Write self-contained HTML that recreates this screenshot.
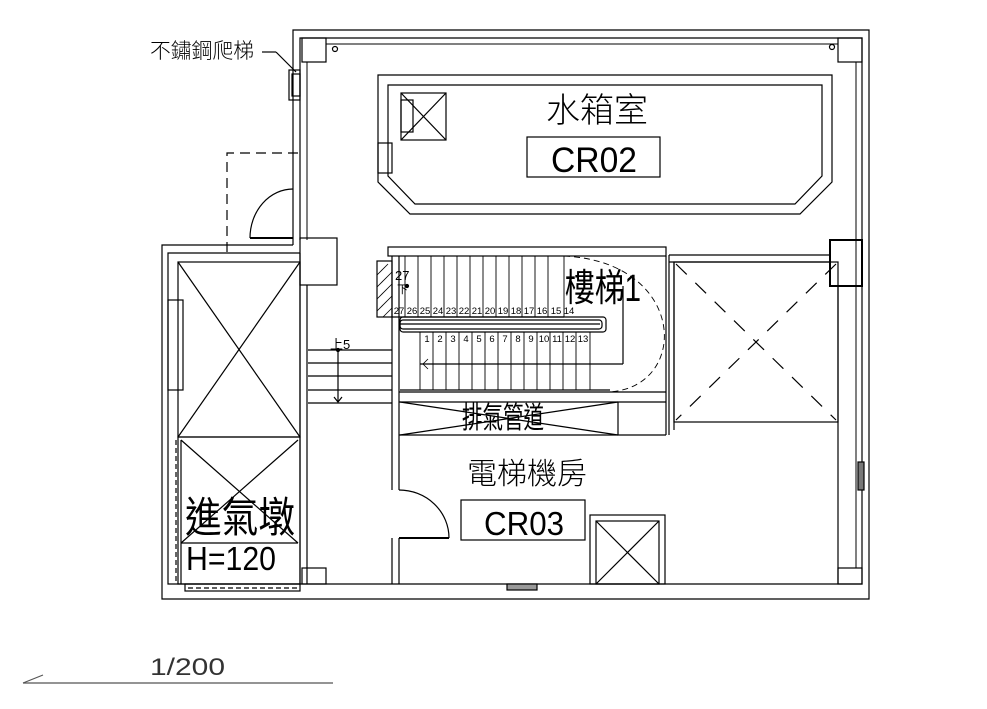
<!DOCTYPE html>
<html><head><meta charset="utf-8"><style>
html,body{margin:0;padding:0;background:#fff;}
svg{display:block}
text{font-family:"Liberation Sans","Noto Sans CJK TC",sans-serif;}
</style></head><body>
<svg width="987" height="709" viewBox="0 0 987 709" xmlns="http://www.w3.org/2000/svg">
<g fill="none" stroke="#000" stroke-width="1.2">
<!-- outer walls -->
<polyline points="293,245 293,30 869,30 869,599 162,599 162,245 293,245"/>
<polyline points="300,240 300,38 862,38 862,584 168,584 168,253 300,253"/>
<line x1="307" y1="62" x2="307" y2="240" stroke-width="1"/>
<line x1="326" y1="44" x2="838" y2="44" stroke-width="1"/>
<line x1="856" y1="62" x2="856" y2="568" stroke-width="1"/>
<!-- columns -->
<rect x="302" y="38" width="24" height="24"/>
<rect x="838" y="38" width="24" height="24"/>
<rect x="302" y="568" width="24" height="16"/>
<rect x="838" y="568" width="24" height="16"/>
<rect x="830" y="240" width="32" height="46" stroke-width="2"/>
<circle cx="335" cy="49" r="2.5"/><circle cx="832" cy="47" r="2.5"/>
<!-- ladder -->
<rect x="289" y="70" width="11" height="30"/><rect x="292" y="74" width="8" height="22"/>
<line x1="262" y1="52" x2="276" y2="52"/><line x1="276" y1="52" x2="296" y2="72"/>
<!-- dashed L -->
<polyline points="227,252 227,153 300,153" stroke-dasharray="10,6"/>
<line x1="250" y1="238" x2="293" y2="238" stroke-width="2"/>
<path d="M250,238 A43,49 0 0 1 293,189"/>
<rect x="300" y="238" width="37" height="47"/>
<!-- water tank -->
<polygon points="378,75 832,75 832,182 800,214 410,214 378,182"/>
<polygon points="388,85 822,85 822,176 795,204 415,204 388,176"/>
<rect x="401" y="93" width="45" height="47"/><line x1="401" y1="93" x2="446" y2="140"/><line x1="446" y1="93" x2="401" y2="140"/>
<rect x="401" y="100" width="12" height="32"/>
<rect x="378" y="143" width="14" height="30"/>
<rect x="527" y="137" width="133" height="40"/>
<!-- stair -->
<rect x="388" y="247" width="278" height="9"/>
<line x1="666" y1="256" x2="666" y2="435"/>
<line x1="392" y1="256" x2="392" y2="490"/><line x1="399" y1="256" x2="399" y2="490"/>
<line x1="392" y1="538" x2="392" y2="584"/><line x1="399" y1="538" x2="399" y2="584"/>
<rect x="377" y="261" width="15" height="56"/>
<g stroke-width="0.8">
<line x1="377" y1="275" x2="388" y2="264"/><line x1="377" y1="287" x2="392" y2="272"/><line x1="377" y1="299" x2="392" y2="284"/><line x1="377" y1="311" x2="392" y2="296"/><line x1="383" y1="317" x2="392" y2="308"/>
</g>
<line x1="392" y1="317" x2="564" y2="317"/>
<g stroke-width="0.9">
<line x1="405" y1="256" x2="405" y2="317"/><line x1="418" y1="256" x2="418" y2="317"/><line x1="431" y1="256" x2="431" y2="317"/><line x1="444" y1="256" x2="444" y2="317"/><line x1="457" y1="256" x2="457" y2="317"/><line x1="470" y1="256" x2="470" y2="317"/><line x1="483" y1="256" x2="483" y2="317"/><line x1="496" y1="256" x2="496" y2="317"/><line x1="509" y1="256" x2="509" y2="317"/><line x1="522" y1="256" x2="522" y2="317"/><line x1="535" y1="256" x2="535" y2="317"/><line x1="548" y1="256" x2="548" y2="317"/><line x1="564" y1="256" x2="564" y2="317"/>
<line x1="420" y1="332" x2="420" y2="390"/><line x1="433" y1="332" x2="433" y2="390"/><line x1="446" y1="332" x2="446" y2="390"/><line x1="459" y1="332" x2="459" y2="390"/><line x1="472" y1="332" x2="472" y2="390"/><line x1="485" y1="332" x2="485" y2="390"/><line x1="498" y1="332" x2="498" y2="390"/><line x1="511" y1="332" x2="511" y2="390"/><line x1="524" y1="332" x2="524" y2="390"/><line x1="537" y1="332" x2="537" y2="390"/><line x1="550" y1="332" x2="550" y2="390"/><line x1="563" y1="332" x2="563" y2="390"/><line x1="576" y1="332" x2="576" y2="390"/><line x1="590" y1="332" x2="590" y2="390"/>
</g>
<rect x="400" y="317" width="206" height="15" rx="3"/>
<rect x="400" y="320" width="202" height="9" rx="3"/>
<line x1="400" y1="324" x2="600" y2="324"/>
<line x1="420" y1="364" x2="623" y2="364"/><line x1="623" y1="286" x2="623" y2="364"/>
<polyline points="428,359 423,364 428,369" stroke-width="0.8"/>
<line x1="400" y1="390" x2="610" y2="390"/>
<line x1="399" y1="392" x2="666" y2="392"/>
<path d="M564,256 C690,262 690,392 605,392" stroke-dasharray="6,4" stroke-width="0.9"/>
<circle cx="407" cy="286" r="1.5" fill="#000"/>
<!-- pipe duct -->
<line x1="399" y1="402" x2="666" y2="402"/><line x1="399" y1="435" x2="666" y2="435"/>
<line x1="618" y1="402" x2="618" y2="435"/>
<line x1="400" y1="402" x2="618" y2="435"/><line x1="618" y1="402" x2="400" y2="435"/>
<!-- left stair -->
<line x1="308" y1="350" x2="392" y2="350"/><line x1="308" y1="363" x2="392" y2="363"/><line x1="308" y1="376" x2="392" y2="376"/><line x1="308" y1="390" x2="392" y2="390"/><line x1="308" y1="403" x2="392" y2="403"/>
<line x1="338" y1="350" x2="338" y2="402"/><polyline points="334,397 338,402 342,397"/>
<circle cx="338" cy="350" r="1.5" fill="#000"/>
<!-- left elevator zone -->
<line x1="300" y1="253" x2="300" y2="584"/><line x1="307" y1="285" x2="307" y2="584"/>
<rect x="178" y="262" width="122" height="175"/>
<line x1="178" y1="262" x2="300" y2="437"/><line x1="300" y1="262" x2="178" y2="437"/>
<rect x="168" y="300" width="15" height="90"/>
<rect x="178" y="437" width="122" height="147"/>
<line x1="181" y1="440" x2="298" y2="543"/><line x1="298" y1="440" x2="181" y2="543"/>
<line x1="181" y1="543" x2="298" y2="543"/>
<line x1="181" y1="440" x2="181" y2="584"/>
<line x1="176" y1="440" x2="176" y2="584" stroke-dasharray="5,3"/>
<rect x="185" y="584" width="115" height="7"/>
<line x1="188" y1="588" x2="298" y2="588" stroke-dasharray="5,3"/>
<!-- right shaft -->
<line x1="669" y1="255" x2="830" y2="255"/><line x1="669" y1="262" x2="830" y2="262"/>
<line x1="674" y1="262" x2="674" y2="430"/><line x1="669" y1="255" x2="669" y2="435"/>
<rect x="674" y="262" width="164" height="160"/>
<line x1="676" y1="264" x2="836" y2="420" stroke-dasharray="15,12"/>
<line x1="836" y1="264" x2="676" y2="420" stroke-dasharray="15,12"/>
<line x1="838" y1="286" x2="838" y2="584"/>
<rect x="858" y="462" width="6" height="28" fill="#777"/>
<!-- machine room -->
<line x1="399" y1="538" x2="449" y2="538" stroke-width="2"/>
<path d="M399,490 A50,48 0 0 1 449,538"/>
<rect x="461" y="500" width="124" height="40"/>
<rect x="590" y="515" width="75" height="69"/>
<rect x="596" y="521" width="63" height="63"/>
<line x1="596" y1="521" x2="659" y2="584"/><line x1="659" y1="521" x2="596" y2="584"/>
<rect x="507" y="584" width="30" height="6" fill="#999"/>
<!-- scale -->
<line x1="23" y1="683" x2="333" y2="683" stroke="#555"/>
<line x1="23" y1="683" x2="43" y2="675" stroke="#555"/>
</g>
<g fill="#000">
<text x="150" y="58" font-size="21" textLength="104" lengthAdjust="spacingAndGlyphs" font-weight="300">不鏽鋼爬梯</text>
<text x="597" y="122" font-size="34" text-anchor="middle" font-weight="300">水箱室</text>
<text x="594" y="172" font-size="35" text-anchor="middle" textLength="86" lengthAdjust="spacingAndGlyphs" font-weight="300">CR02</text>
<text x="527" y="484" font-size="30" text-anchor="middle" font-weight="300">電梯機房</text>
<text x="524" y="535" font-size="33" text-anchor="middle" textLength="80" lengthAdjust="spacingAndGlyphs" font-weight="300">CR03</text>
<text x="565" y="301" font-size="38" font-family="Liberation Serif,Noto Serif CJK SC,serif" textLength="76" lengthAdjust="spacingAndGlyphs">樓梯1</text>
<text x="462" y="428" font-size="30" textLength="82" lengthAdjust="spacingAndGlyphs">排氣管道</text>
<text x="185" y="532" font-size="42" font-family="Liberation Serif,Noto Serif CJK SC,serif" textLength="110" lengthAdjust="spacingAndGlyphs">進氣墩</text>
<text x="186" y="570" font-size="33" font-family="Liberation Serif,serif" textLength="90" lengthAdjust="spacingAndGlyphs">H=120</text>
<text x="395" y="280" font-size="13">27</text>
<text x="397" y="293" font-size="11">下</text>
<text x="330" y="349" font-size="13">上5</text>
<text x="150" y="675" font-size="24" textLength="75" lengthAdjust="spacingAndGlyphs" font-weight="300" fill="#333">1/200</text>
<g font-size="9.5" text-anchor="middle">
<text x="399" y="314">27</text><text x="412" y="314">26</text><text x="425" y="314">25</text><text x="438" y="314">24</text><text x="451" y="314">23</text><text x="464" y="314">22</text><text x="477" y="314">21</text><text x="490" y="314">20</text><text x="503" y="314">19</text><text x="516" y="314">18</text><text x="529" y="314">17</text><text x="542" y="314">16</text><text x="556" y="314">15</text><text x="569" y="314">14</text>
<text x="427" y="342">1</text><text x="440" y="342">2</text><text x="453" y="342">3</text><text x="466" y="342">4</text><text x="479" y="342">5</text><text x="492" y="342">6</text><text x="505" y="342">7</text><text x="518" y="342">8</text><text x="531" y="342">9</text><text x="544" y="342">10</text><text x="557" y="342">11</text><text x="570" y="342">12</text><text x="583" y="342">13</text>
</g>
</g>
</svg>
</body></html>
